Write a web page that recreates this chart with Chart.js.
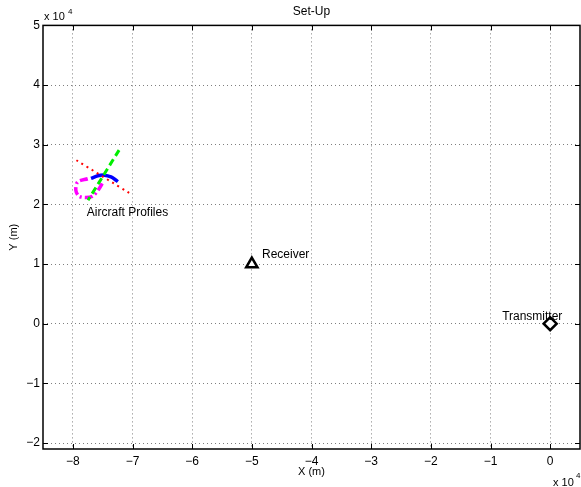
<!DOCTYPE html>
<html>
<head>
<meta charset="utf-8">
<title>Set-Up</title>
<script src="https://cdn.jsdelivr.net/npm/chart.js@4/dist/chart.umd.min.js"></script>
<style>
  html, body { margin: 0; padding: 0; background: #fff; }
  #wrap { width: 581px; height: 487px; }
</style>
</head>
<body>
<div id="wrap"><canvas id="myChart" width="581" height="487"></canvas></div>
<script>
// axes (metres)
const xRange = [-85000, 5000];
const yRange = [-21000, 50000];
const xTicks = [-80000, -70000, -60000, -50000, -40000, -30000, -20000, -10000, 0];
const yTicks = [-20000, -10000, 0, 10000, 20000, 30000, 40000, 50000];

// aircraft profiles
const redX = [-79400, -70450];
const redY = [27400, 21850];
const greenX = [-72250, -77450];
const greenY = [29100, 20700];
const blueX = [-76950, -75800, -74700, -73600, -72750, -72450];
const blueY = [24350, 24800, 24900, 24600, 24050, 23800];
const magentaX = [-77500, -79200, -79500, -79000, -77850, -76650, -75650, -74950];
const magentaY = [24300, 23750, 22400, 21400, 21150, 21400, 22550, 23750];

// stations
const receiverX = [-50000];
const receiverY = [10000];
const transmitterX = [0];
const transmitterY = [0];

// text annotations (data coords)
const labelText = ['Aircraft Profiles', 'Receiver', 'Transmitter'];
const labelX = [-77650, -48300, -8050];
const labelY = [18600, 11500, 1200];

const toPts = (xs, ys) => xs.map((x, i) => ({ x: x, y: ys[i] }));
const fmt = v => String(v / 10000).replace('-', '\u2212');
const FONT = "'Liberation Sans', Arial, sans-serif";

const matlabBox = {
  id: 'matlabBox',
  afterDraw(chart) {
    const ctx = chart.ctx;
    const a = chart.chartArea;
    const xs = chart.scales.x, ys = chart.scales.y;
    ctx.save();
    ctx.strokeStyle = '#000';
    ctx.lineWidth = 1;
    // inward ticks
    ctx.beginPath();
    xs.ticks.forEach(t => {
      const px = Math.round(xs.getPixelForValue(t.value)) + 0.5;
      ctx.moveTo(px, a.bottom); ctx.lineTo(px, a.bottom - 5);
      ctx.moveTo(px, a.top); ctx.lineTo(px, a.top + 5);
    });
    ys.ticks.forEach(t => {
      const py = Math.round(ys.getPixelForValue(t.value)) + 0.5;
      ctx.moveTo(a.left, py); ctx.lineTo(a.left + 5, py);
      ctx.moveTo(a.right, py); ctx.lineTo(a.right - 5, py);
    });
    ctx.stroke();
    // box
    ctx.lineWidth = 1.5;
    ctx.strokeRect(a.left, a.top, a.right - a.left, a.bottom - a.top);

    // exponent labels
    ctx.fillStyle = '#000';
    ctx.textBaseline = 'alphabetic';
    ctx.textAlign = 'left';
    ctx.font = '11px ' + FONT;
    ctx.fillText('x 10', a.left + 1, a.top - 5);
    ctx.fillText('x 10', a.right - 27, a.bottom + 37);
    ctx.font = '8px ' + FONT;
    ctx.fillText('4', a.left + 25, a.top - 11);
    ctx.fillText('4', a.right - 4, a.bottom + 29);

    // text annotations
    ctx.font = '12px ' + FONT;
    ctx.textBaseline = 'middle';
    labelText.forEach((s, i) => {
      ctx.fillText(s, xs.getPixelForValue(labelX[i]), ys.getPixelForValue(labelY[i]));
    });
    ctx.restore();
  }
};

const lineSet = (label, xs, ys, color, width, dash) => ({
  label: label,
  data: toPts(xs, ys),
  showLine: true,
  borderColor: color,
  borderWidth: width,
  borderDash: dash,
  pointRadius: 0,
  fill: false,
  tension: 0.3
});

new Chart(document.getElementById('myChart'), {
  type: 'scatter',
  data: {
    datasets: [
      {
        label: 'Receiver',
        data: toPts(receiverX, receiverY),
        pointStyle: 'triangle',
        pointRadius: 6.5,
        borderColor: '#000',
        backgroundColor: '#fff',
        borderWidth: 2.5
      },
      {
        label: 'Transmitter',
        data: toPts(transmitterX, transmitterY),
        pointStyle: 'rectRot',
        pointRadius: 6.5,
        borderColor: '#000',
        backgroundColor: '#fff',
        borderWidth: 2.5
      },
      lineSet('red', redX, redY, '#ff0000', 2, [2, 4]),
      lineSet('green', greenX, greenY, '#00ee00', 3, [7, 4]),
      lineSet('blue', blueX, blueY, '#0000ff', 3.5, []),
      lineSet('magenta', magentaX, magentaY, '#ff00ff', 3.5, [8, 3, 2, 3])
    ]
  },
  options: {
    responsive: false,
    animation: false,
    layout: { autoPadding: false, padding: { left: 0, right: 1, top: 0, bottom: 0 } },
    plugins: {
      legend: { display: false },
      tooltip: { enabled: false },
      title: {
        display: true,
        text: 'Set-Up',
        fullSize: false,
        color: '#000',
        font: { family: FONT, size: 12, weight: 'normal' },
        padding: { top: 4, bottom: 7 }
      }
    },
    scales: {
      x: {
        type: 'linear',
        min: xRange[0],
        max: xRange[1],
        afterBuildTicks: s => { s.ticks = xTicks.map(v => ({ value: v })); },
        afterFit: s => { s.height = 38; s.paddingLeft = 0; s.paddingRight = 0; },
        grid: { color: 'rgba(0,0,0,0.5)', lineWidth: 1, drawTicks: false },
        border: { display: false, dash: [1, 3] },
        ticks: {
          padding: 5,
          maxRotation: 0,
          color: '#000',
          font: { family: FONT, size: 12 },
          callback: v => fmt(v)
        },
        title: {
          display: true,
          text: 'X (m)',
          color: '#000',
          font: { family: FONT, size: 11 },
          padding: { top: 0, bottom: 8 }
        }
      },
      y: {
        type: 'linear',
        min: yRange[0],
        max: yRange[1],
        afterBuildTicks: s => { s.ticks = yTicks.map(v => ({ value: v })); },
        afterFit: s => { s.width = 43; s.paddingTop = 0; s.paddingBottom = 0; },
        grid: { color: 'rgba(0,0,0,0.5)', lineWidth: 1, drawTicks: false },
        border: { display: false, dash: [1, 3] },
        ticks: {
          padding: 3,
          color: '#000',
          font: { family: FONT, size: 12 },
          callback: v => fmt(v)
        },
        title: {
          display: true,
          text: 'Y (m)',
          color: '#000',
          font: { family: FONT, size: 11 },
          padding: { top: 7, bottom: 0 }
        }
      }
    }
  },
  plugins: [matlabBox]
});
</script>
</body>
</html>
